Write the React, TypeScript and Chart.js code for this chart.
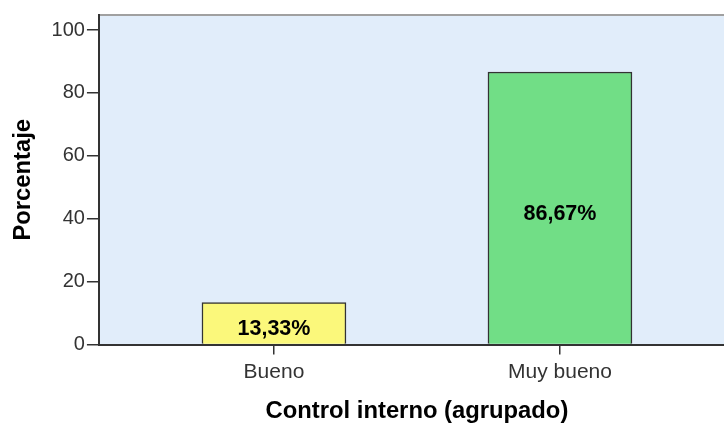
import React, { useEffect, useRef } from "react";
import { Chart, registerables } from "chart.js";
Chart.register(...registerables);

const categories = ["Bueno", "Muy bueno"];
const percentages = [13.33, 86.67];
const barColors = ["#FBF87B", "#71DE86"];
const yTickValues = [0, 20, 40, 60, 80, 100];
const xTitle = "Control interno (agrupado)";
const yTitle = "Porcentaje";

const FONT = "'Liberation Sans', Arial, sans-serif";

export default function App() {
  const ref = useRef<HTMLCanvasElement>(null);
  useEffect(() => {
    document.body.style.margin = "0";
    document.body.style.overflow = "hidden";
    const plotBg = {
      id: "plotBg",
      beforeDraw(chart: any) {
        const { ctx, chartArea: a } = chart;
        ctx.save();
        ctx.fillStyle = "#E1EDFA";
        ctx.fillRect(a.left, a.top, a.right - a.left, a.bottom - a.top);
        ctx.strokeStyle = "#A0A0A0";
        ctx.lineWidth = 2;
        ctx.beginPath();
        ctx.moveTo(a.left, a.top);
        ctx.lineTo(a.right, a.top);
        ctx.stroke();
        ctx.restore();
      },
    };
    const barLabels = {
      id: "barLabels",
      afterDatasetsDraw(chart: any) {
        const { ctx } = chart;
        const meta = chart.getDatasetMeta(0);
        ctx.save();
        ctx.font = `bold 21.5px ${FONT}`;
        ctx.fillStyle = "#000";
        ctx.textAlign = "center";
        ctx.textBaseline = "alphabetic";
        meta.data.forEach((bar: any, i: number) => {
          const { x, y, base } = bar.getProps(["x", "y", "base"], true);
          const txt = percentages[i].toFixed(2).replace(".", ",") + "%";
          ctx.fillText(txt, x, (y + base) / 2 + 11.7);
        });
        ctx.restore();
      },
    };
    const chart = new Chart(ref.current!, {
      type: "bar",
      data: {
        datasets: [
          {
            data: percentages.map((v, i) => ({ x: i, y: v })),
            backgroundColor: barColors,
            borderColor: "#333",
            borderWidth: 1.5,
            barThickness: 144,
          },
        ],
      },
      plugins: [plotBg, barLabels],
      options: {
        animation: false,
        responsive: true,
        maintainAspectRatio: false,
        layout: { padding: { top: 15, left: 0, right: 5, bottom: 0 } },
        plugins: { legend: { display: false }, tooltip: { enabled: false } },
        scales: {
          x: {
            type: "linear",
            offset: false,
            min: -0.612,
            max: 1.612,
            afterBuildTicks: (s: any) => {
              s.ticks = categories.map((_, i) => ({ value: i }));
            },
            ticks: {
              callback: (v: any) => categories[Math.round(v)],
              font: { family: FONT, size: 21 },
              color: "#333",
              padding: 5.5,
              maxRotation: 0,
            },
            grid: { offset: false, drawOnChartArea: false, tickLength: 10, color: "#333", lineWidth: 1.5 },
            border: { display: true, color: "#333", width: 2 },
            title: {
              display: true,
              text: xTitle,
              font: { family: FONT, size: 23.8, weight: "bold" },
              color: "#000",
              padding: { top: 6.7, bottom: 0 },
            },
          },
          y: {
            min: 0,
            max: 104.8,
            afterBuildTicks: (s: any) => {
              s.ticks = yTickValues.map((v) => ({ value: v }));
            },
            ticks: {
              font: { family: FONT, size: 20 },
              color: "#333",
              padding: 2,
            },
            grid: { drawOnChartArea: false, tickLength: 12, color: "#333", lineWidth: 1.5 },
            border: { display: true, color: "#333", width: 2 },
            title: {
              display: true,
              text: yTitle,
              font: { family: FONT, size: 23.8, weight: "bold" },
              color: "#000",
              padding: { top: 8.7, bottom: 12.3 },
            },
          },
        },
      },
    });
    return () => chart.destroy();
  }, []);
  return (
    <div style={{ width: 740, height: 426, position: "relative" }}>
      <canvas ref={ref} />
    </div>
  );
}
